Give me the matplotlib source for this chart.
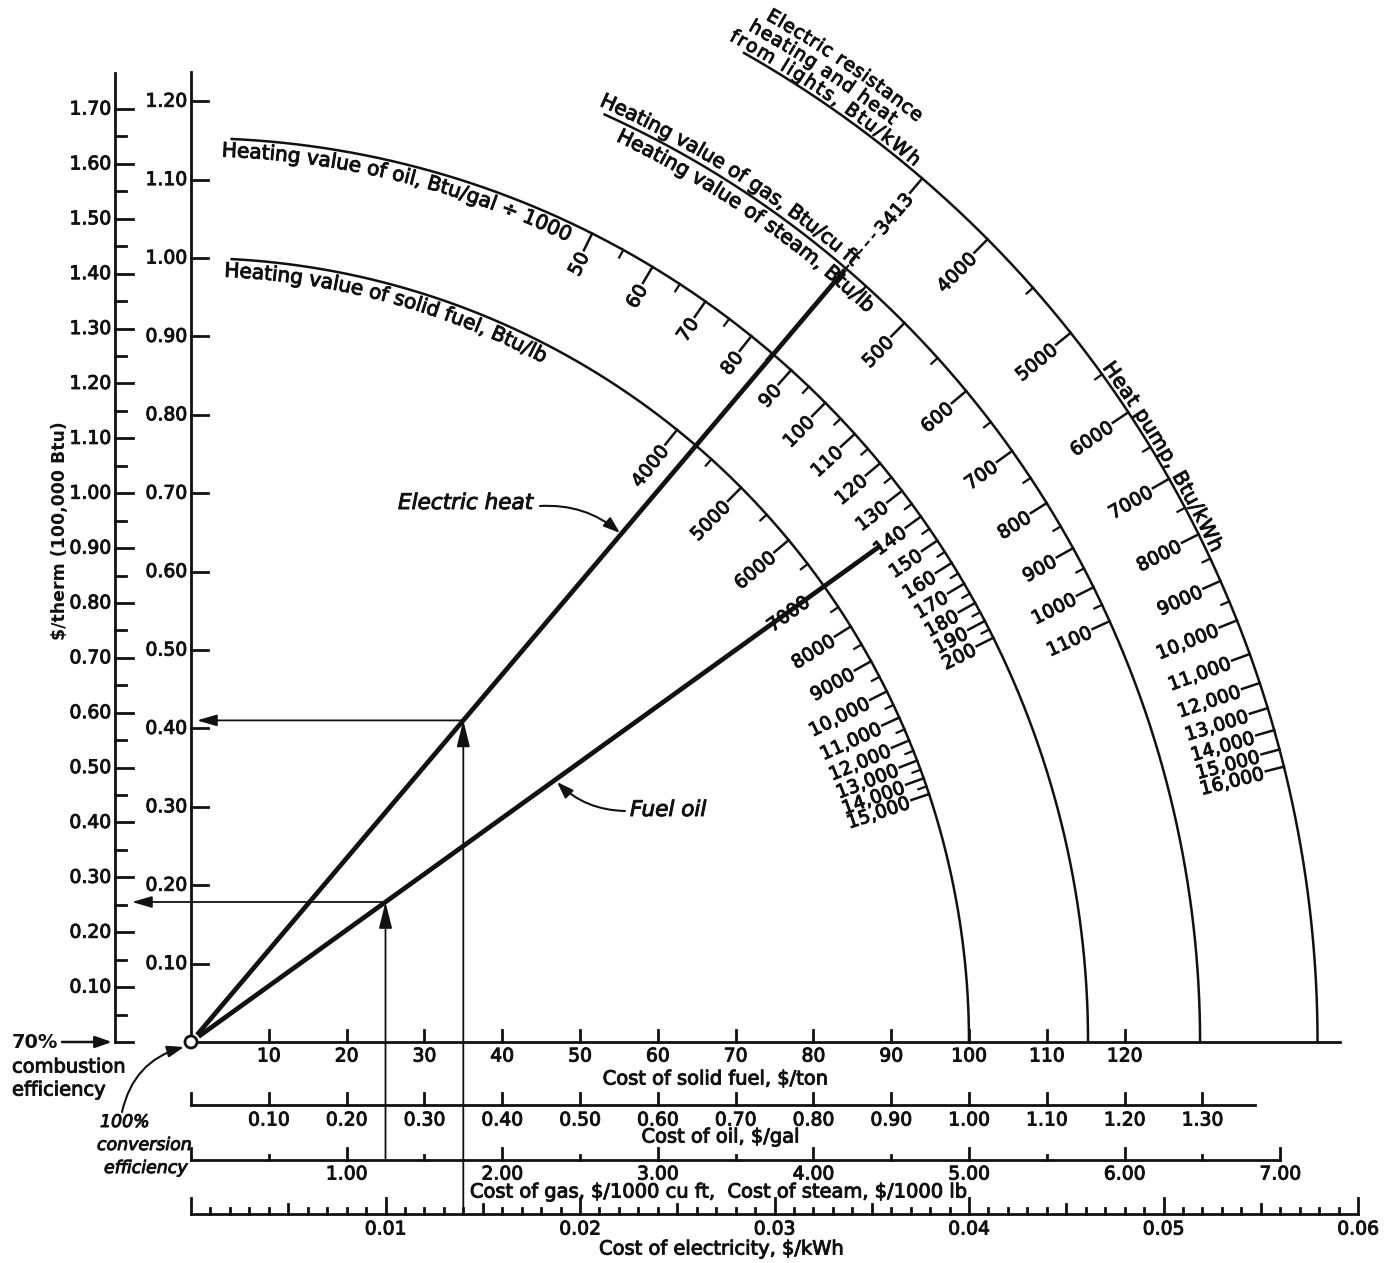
import numpy as np
import matplotlib
matplotlib.use("Agg")
import matplotlib.pyplot as plt
import matplotlib.patheffects as pe
from matplotlib.patches import Circle, FancyArrowPatch
from matplotlib.font_manager import FontProperties, findfont, get_font

plt.rcParams['font.family'] = 'DejaVu Sans'

# ---------------- values ----------------
# $/therm scales on the left
therm_outer = [0.10, 0.20, 0.30, 0.40, 0.50, 0.60, 0.70, 0.80, 0.90, 1.00,
               1.10, 1.20, 1.30, 1.40, 1.50, 1.60, 1.70]        # 70% combustion eff.
therm_outer_minor = [0.05, 0.15, 0.25, 0.35, 0.45, 0.55, 0.65, 0.75, 0.85,
                     0.95, 1.05, 1.15, 1.25, 1.35, 1.45, 1.55, 1.65]
therm_inner = [0.10, 0.20, 0.30, 0.40, 0.50, 0.60, 0.70, 0.80, 0.90, 1.00,
               1.10, 1.20]                                      # 100% conversion eff.

# cost scales along the bottom
solid_cost = [10, 20, 30, 40, 50, 60, 70, 80, 90, 100, 110, 120]          # $/ton
oil_cost = [0.10, 0.20, 0.30, 0.40, 0.50, 0.60, 0.70, 0.80, 0.90, 1.00,
            1.10, 1.20, 1.30]                                              # $/gal
gas_cost = [1.00, 2.00, 3.00, 4.00, 5.00, 6.00, 7.00]                     # $/1000 cu ft
gas_cost_minor = [0.50, 1.50, 2.50, 3.50, 4.50, 5.50, 6.50]
elec_cost = [0.01, 0.02, 0.03, 0.04, 0.05, 0.06]                          # $/kWh

# heating values on the arcs
solid_hv = [4000, 5000, 6000, 7000, 8000, 9000, 10000, 11000, 12000, 13000,
            14000, 15000]                                                  # Btu/lb
solid_hv_minor = [4500, 5500, 6500, 7500, 8500, 9500, 10500, 11500, 12500,
                  13500, 14500]
oil_hv = [50, 60, 70, 80, 90, 100, 110, 120, 130, 140, 150, 160, 170, 180,
          190, 200]                                                        # Btu/gal / 1000
oil_hv_minor = [55, 65, 75, 85, 95, 105, 115, 125, 135, 145, 155, 165, 175,
                185, 195]
gas_hv = [500, 600, 700, 800, 900, 1000, 1100]                            # Btu/cu ft
gas_hv_minor = [450, 550, 650, 750, 850, 950, 1050]
resist_hv = [3413]                                                         # Btu/kWh
pump_hv = [4000, 5000, 6000, 7000, 8000, 9000, 10000, 11000, 12000, 13000,
           14000, 15000, 16000]
pump_hv_minor = [4500, 5500, 6500, 7500, 8500, 9500]

# worked examples drawn on the chart
ex_elec_cost, ex_elec_hv = 0.014, 3413
ex_oil_cost, ex_oil_hv = 0.25, 140

# ---------------- nomogram scales ----------------
DPI = 100
INK = '#111111'
FS = 13.5
X0, Y0 = 191, 1042          # origin of the nomogram (pixels)
KX, KY = 7.78, 7.84         # pixels per chart unit

U_PER = {'solid': 1.0, 'oil': 100.0, 'gas': 20.0, 'elec': 2500.0}   # units per $
V_OUTER, V_INNER = 70.0, 100.0                                       # units per $/therm
# (quantity per priced unit, efficiency, therm scale)
FUEL = {'solid': (2000, 0.7, V_OUTER), 'oil': (1000, 0.7, V_OUTER),
        'gas': (1000, 0.7, V_OUTER), 'elec': (1, 1.0, V_INNER)}
ARC_R = {'solid': 100.0, 'oil': 115.3, 'gas': 129.7, 'elec': 144.8}
ARC_TOP = {'solid': 87.0, 'oil': 87.4, 'gas': 65.8, 'elec': 60.6}

# slightly heavier ink for text, like the printed original
TXT = dict(color=INK, path_effects=[pe.withStroke(linewidth=0.7, foreground=INK)])


def px(u):
    return X0 + KX * np.asarray(u, dtype=float)


def py(v):
    return Y0 - KY * np.asarray(v, dtype=float)


def slope(kind, hv):
    qty, eff, vscale = FUEL[kind]
    return vscale * 1e5 / (qty * hv * eff) / U_PER[kind]


def fmt_hv(h):
    return f"{h:,}" if h >= 10000 else str(h)


fig = plt.figure(figsize=(13.85, 12.63), dpi=DPI)
ax = fig.add_axes([0, 0, 1, 1])
ax.set_xlim(0, 1385)
ax.set_ylim(1263, 0)
ax.axis('off')


def curved_text(s, R, th0, th1, off, size=14.5, **kw):
    fp = FontProperties(family='DejaVu Sans', size=size, **kw)
    font = get_font(findfont(fp))
    font.set_size(size, DPI)
    adv = np.array([font.load_char(ord(c)).linearHoriAdvance / 65536 for c in s])
    rb = R * (KX + KY) / 2 + off
    span = np.radians(th0 - th1) * rb
    track = (span - adv.sum()) / (len(s) - 1)
    centers = np.concatenate([[0], np.cumsum(adv)[:-1]]) + np.arange(len(s)) * track + adv / 2
    for ch, c in zip(s, centers):
        if ch == ' ':
            continue
        phi = np.radians(th0) - c / rb
        x = X0 + (R * KX + off) * np.cos(phi)
        y = Y0 - (R * KY + off) * np.sin(phi)
        ax.text(x, y, ch, fontproperties=fp, rotation=np.degrees(phi) - 90,
                ha='center', va='baseline', rotation_mode='anchor', **TXT)


# ---------------- left $/therm scales ----------------
xo, xi = 115, px(0)
ax.plot([xo, xo], [Y0, 73], color=INK, lw=2.0)
for t in [0.0] + therm_outer:
    y = py(t * V_OUTER)
    ax.plot([xo, xo + 18], [y, y], color=INK, lw=2.0)
for t in therm_outer_minor:
    y = py(t * V_OUTER)
    ax.plot([xo, xo + 11], [y, y], color=INK, lw=2.0)
for t in therm_outer:
    ax.text(xo - 4, py(t * V_OUTER), f"{t:.2f}", ha='right', va='center',
            fontsize=FS, **TXT)

ax.plot([xi, xi], [Y0, 72], color=INK, lw=2.0)
for t in therm_inner:
    y = py(t * V_INNER)
    ax.plot([xi, xi + 17], [y, y], color=INK, lw=2.0)
    ax.text(xi - 4, y, f"{t:.2f}", ha='right', va='center', fontsize=FS, **TXT)

ax.text(60, 531, "$/therm (100,000 Btu)", rotation=90, ha='center', va='center',
        fontsize=12.5, fontweight='bold', color=INK)

# ---------------- bottom cost scales ----------------
y_solid, y_oil, y_gas, y_elec = Y0, 1105, 1160, 1214

ax.plot([px(0) + 6, 1340], [y_solid, y_solid], color=INK, lw=2.0)
for c in solid_cost:
    x = px(c * U_PER['solid'])
    ax.plot([x, x], [y_solid, y_solid - 12], color=INK, lw=2.0)
    ax.text(x, y_solid + 14, str(c), ha='center', va='center', fontsize=FS, **TXT)
ax.text(716, 1079, "Cost of solid fuel, $/ton", ha='center', va='center',
        fontsize=14, **TXT)

ax.plot([px(0), 1255], [y_oil, y_oil], color=INK, lw=2.0)
for c in [0.0] + oil_cost:
    x = px(c * U_PER['oil'])
    ax.plot([x, x], [y_oil, y_oil - 12], color=INK, lw=2.0)
for c in oil_cost:
    ax.text(px(c * U_PER['oil']), y_oil + 15, f"{c:.2f}", ha='center', va='center',
            fontsize=FS, **TXT)
ax.text(721, 1137, "Cost of oil, $/gal", ha='center', va='center', fontsize=14, **TXT)

ax.plot([px(0), px(gas_cost[-1] * U_PER['gas'])], [y_gas, y_gas], color=INK, lw=2.0)
for c in [0.0] + gas_cost:
    x = px(c * U_PER['gas'])
    ax.plot([x, x], [y_gas, y_gas - 12], color=INK, lw=2.0)
for c in gas_cost_minor:
    x = px(c * U_PER['gas'])
    ax.plot([x, x], [y_gas, y_gas - 5], color=INK, lw=2.0)
for c in gas_cost:
    ax.text(px(c * U_PER['gas']), y_gas + 14, f"{c:.2f}", ha='center', va='center',
            fontsize=FS, **TXT)
ax.text(719, 1192, r"Cost of gas, \$/1000 cu ft,  Cost of steam, \$/1000 lb",
        ha='center', va='center', fontsize=14, **TXT)

ax.plot([px(0), px(elec_cost[-1] * U_PER['elec'])], [y_elec, y_elec], color=INK, lw=2.0)
for i in range(0, 61):
    x = px(i / 1000 * U_PER['elec'])
    h = 16 if i % 10 == 0 else (10 if i % 5 == 0 else 6)
    ax.plot([x, x], [y_elec, y_elec - h], color=INK, lw=2.0)
for c in elec_cost:
    ax.text(px(c * U_PER['elec']), y_elec + 15, f"{c:.2f}", ha='center', va='center',
            fontsize=FS, **TXT)
ax.text(722, 1249, "Cost of electricity, $/kWh", ha='center', va='center',
        fontsize=14, **TXT)

# ---------------- heating-value arcs ----------------
for kind in ARC_R:
    R = ARC_R[kind]
    th = np.radians(np.linspace(0, ARC_TOP[kind], 400))
    ax.plot(px(R * np.cos(th)), py(R * np.sin(th)), color=INK, lw=1.8)


def arc_ticks(kind, values, minor, L=2.4):
    R = ARC_R[kind]
    for hv in values:
        th = np.arctan(slope(kind, hv))
        c, s = np.cos(th), np.sin(th)
        ax.plot(px([R * c, (R - L) * c]), py([R * s, (R - L) * s]), color=INK, lw=1.8)
        r = R - L - 0.35
        ax.text(px(r * c), py(r * s), fmt_hv(hv), rotation=np.degrees(th),
                ha='right', va='center_baseline', rotation_mode='anchor',
                fontsize=FS, **TXT)
    for hv in minor:
        th = np.arctan(slope(kind, hv))
        c, s = np.cos(th), np.sin(th)
        ax.plot(px([R * c, (R - 1.1) * c]), py([R * s, (R - 1.1) * s]), color=INK, lw=1.6)


arc_ticks('solid', solid_hv, solid_hv_minor)
arc_ticks('oil', oil_hv, oil_hv_minor)
arc_ticks('gas', gas_hv, gas_hv_minor)
arc_ticks('elec', resist_hv + pump_hv, pump_hv_minor)

curved_text("Heating value of solid fuel, Btu/lb", ARC_R['solid'], 87.5, 62.4, -18)
curved_text("Heating value of oil, Btu/gal \u00f7 1000", ARC_R['oil'], 88.0, 64.6, -18)
curved_text("Heating value of gas, Btu/cu ft", ARC_R['gas'], 66.3, 49.3, 6)
curved_text("Heating value of steam, Btu/lb", ARC_R['gas'], 64.6, 46.9, -19)
curved_text("from lights, Btu/kWh", ARC_R['elec'], 61.6, 50.2, 4, size=13.5)
curved_text("heating and heat", ARC_R['elec'], 61.0, 52.4, 22, size=13.5)
curved_text("Electric resistance", ARC_R['elec'], 60.5, 51.5, 40, size=13.5)
curved_text("Heat pump, Btu/kWh", ARC_R['elec'], 36.3, 25.4, 4)

# ---------------- rays for the worked examples ----------------
th_e = np.arctan(slope('elec', ex_elec_hv))
th_o = np.arctan(slope('oil', ex_oil_hv))
ce, se = np.cos(th_e), np.sin(th_e)
co, so = np.cos(th_o), np.sin(th_o)
ax.plot(px([1.2 * ce, 129.5 * ce]), py([1.2 * se, 129.5 * se]), color=INK, lw=3.4,
        solid_capstyle='butt')
ax.plot(px([129.5 * ce, 135.5 * ce]), py([129.5 * se, 135.5 * se]), color=INK, lw=1.5,
        ls=(0, (3, 2)))
ax.plot(px([1.2 * co, 109 * co]), py([1.2 * so, 109 * so]), color=INK, lw=3.4,
        solid_capstyle='butt')

ax.add_patch(Circle((px(0), Y0), 6, facecolor='white', edgecolor=INK, lw=2.0, zorder=5))

# electric example: cost -> ray -> inner $/therm scale
ue = ex_elec_cost * U_PER['elec']
ve = ue * slope('elec', ex_elec_hv)
head = '-|>,head_length=16,head_width=4'
ax.add_patch(FancyArrowPatch((px(ue), y_elec), (px(ue), py(ve)), arrowstyle=head,
                             mutation_scale=1, lw=1.3, color=INK, shrinkA=0, shrinkB=0))
ax.add_patch(FancyArrowPatch((px(ue), py(ve)), (px(0) + 6, py(ve)),
                             arrowstyle='-|>,head_length=12,head_width=3.5',
                             mutation_scale=1, lw=1.3, color=INK, shrinkA=0, shrinkB=0))

# oil example: cost -> ray -> outer $/therm scale
uo = ex_oil_cost * U_PER['oil']
vo = uo * slope('oil', ex_oil_hv)
ax.add_patch(FancyArrowPatch((px(uo), y_gas), (px(uo), py(vo)), arrowstyle=head,
                             mutation_scale=1, lw=1.3, color=INK, shrinkA=0, shrinkB=0))
ax.add_patch(FancyArrowPatch((px(uo), py(vo)), (xo + 17, py(vo)),
                             arrowstyle='-|>,head_length=12,head_width=3.5',
                             mutation_scale=1, lw=1.3, color=INK, shrinkA=0, shrinkB=0))

# ---------------- annotations ----------------
small_head = '-|>,head_length=10,head_width=3.5'
ax.text(398, 503, "Electric heat", ha='left', va='center', fontsize=15.5,
        style='italic', **TXT)
ax.add_patch(FancyArrowPatch((540, 506), (620, 533), arrowstyle=small_head,
                             connectionstyle='arc3,rad=-0.2', mutation_scale=1,
                             lw=1.5, color=INK, shrinkA=0, shrinkB=0))
ax.text(630, 810, "Fuel oil", ha='left', va='center', fontsize=15.5,
        style='italic', **TXT)
ax.add_patch(FancyArrowPatch((625, 811), (557, 782), arrowstyle=small_head,
                             connectionstyle='arc3,rad=-0.2', mutation_scale=1,
                             lw=1.5, color=INK, shrinkA=0, shrinkB=0))

ax.text(12, 1042, "70%", ha='left', va='center', fontsize=14, fontweight='bold', color=INK)
ax.add_patch(FancyArrowPatch((62, 1042), (112, 1042), arrowstyle=small_head,
                             mutation_scale=1, lw=1.8, color=INK, shrinkA=0, shrinkB=0))
ax.text(12, 1067, "combustion", ha='left', va='center', fontsize=14, **TXT)
ax.text(12, 1090, "efficiency", ha='left', va='center', fontsize=14, **TXT)

ax.text(100, 1122, "100%", ha='left', va='center', fontsize=12.5, style='italic', **TXT)
ax.text(97, 1145, "conversion", ha='left', va='center', fontsize=12.5, style='italic', **TXT)
ax.text(104, 1168, "efficiency", ha='left', va='center', fontsize=12.5, style='italic', **TXT)
ax.add_patch(FancyArrowPatch((122, 1112), (184, 1047), arrowstyle=small_head,
                             connectionstyle='arc3,rad=-0.3', mutation_scale=1,
                             lw=1.5, color=INK, shrinkA=0, shrinkB=0))

fig.savefig('out.png', dpi=DPI)
